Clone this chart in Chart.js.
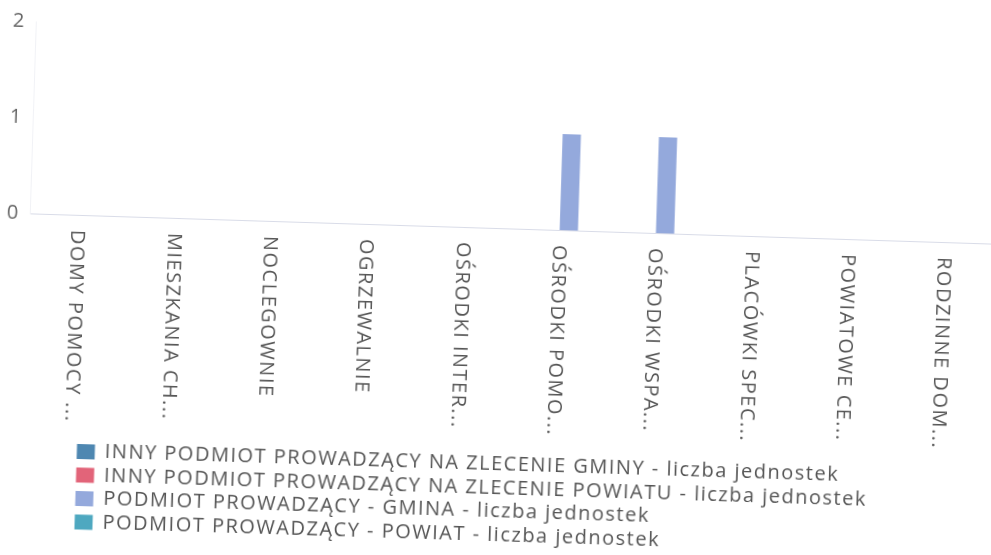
<!DOCTYPE html>
<html>
<head>
<meta charset="utf-8">
<script src="https://cdn.jsdelivr.net/npm/chart.js"></script>
<style>
  html, body { margin: 0; padding: 0; background: #fff; overflow: hidden; }
  #wrap { width: 991px; height: 555px; transform: rotate(1.8deg); }
</style>
</head>
<body>
<div id="wrap"><canvas id="myChart"></canvas></div>
<script>
const labels = ['DOMY POMOCY ...', 'MIESZKANIA CH...', 'NOCLEGOWNIE', 'OGRZEWALNIE', 'OŚRODKI INTER...',
  'OŚRODKI POMO...', 'OŚRODKI WSPA...', 'PLACÓWKI SPEC...', 'POWIATOWE CE...', 'RODZINNE DOM...'];

const innyGmina = [0, 0, 0, 0, 0, 0, 0, 0, 0, 0];
const innyPowiat = [0, 0, 0, 0, 0, 0, 0, 0, 0, 0];
const gmina = [0, 0, 0, 0, 0, 1, 1, 0, 0, 0];
const powiat = [0, 0, 0, 0, 0, 0, 0, 0, 0, 0];

const yTicks = [0, 1, 2];

// wider text, legend pushed in from the left, x labels reading downwards
const tweaks = {
  id: 'tweaks',
  beforeUpdate(chart) {
    chart.ctx.letterSpacing = '1.5px';
  },
  afterLayout(chart) {
    chart.legend.left += 79;
  },
  beforeDraw(chart) {
    chart.ctx.letterSpacing = '1.5px';
    chart.scales.x._getXAxisLabelAlignment = () => 'left';
  }
};

const ctx = document.getElementById('myChart');
Chart.defaults.font.family = "'Open Sans', sans-serif";
Chart.defaults.color = '#555';

new Chart(ctx, {
  type: 'bar',
  data: {
    labels: labels,
    datasets: [{
      label: 'INNY PODMIOT PROWADZĄCY NA ZLECENIE GMINY - liczba jednostek',
      data: innyGmina,
      backgroundColor: '#4e87b1',
      borderWidth: 0
    }, {
      label: 'INNY PODMIOT PROWADZĄCY NA ZLECENIE POWIATU - liczba jednostek',
      data: innyPowiat,
      backgroundColor: '#e26479',
      borderWidth: 0
    }, {
      label: 'PODMIOT PROWADZĄCY - GMINA - liczba jednostek',
      data: gmina,
      backgroundColor: '#94a9dc',
      borderWidth: 0
    }, {
      label: 'PODMIOT PROWADZĄCY - POWIAT - liczba jednostek',
      data: powiat,
      backgroundColor: '#4ea8c0',
      borderWidth: 0
    }]
  },
  options: {
    responsive: true,
    maintainAspectRatio: false,
    animation: false,
    barPercentage: 0.95,
    layout: {
      padding: { top: 36, right: 0, bottom: 0, left: 0 }
    },
    scales: {
      x: {
        grid: { display: false },
        border: { color: '#d9dce8' },
        ticks: {
          autoSkip: false,
          maxRotation: -90,
          minRotation: -90,
          padding: 7,
          color: '#555',
          font: { size: 20 }
        },
        afterFit: (scale) => { scale.height = 223; }
      },
      y: {
        min: yTicks[0],
        max: yTicks[yTicks.length - 1],
        grid: { display: false },
        border: { color: '#f1f2f6' },
        ticks: {
          stepSize: 1,
          padding: 2,
          color: '#666',
          font: { size: 20 }
        },
        afterFit: (scale) => { scale.width = 28; }
      }
    },
    plugins: {
      legend: {
        position: 'bottom',
        align: 'start',
        labels: {
          boxWidth: 18,
          boxHeight: 15,
          padding: 3.5,
          color: '#555',
          font: { size: 20 }
        }
      },
      tooltip: { enabled: false }
    }
  },
  plugins: [tweaks]
});
</script>
</body>
</html>
